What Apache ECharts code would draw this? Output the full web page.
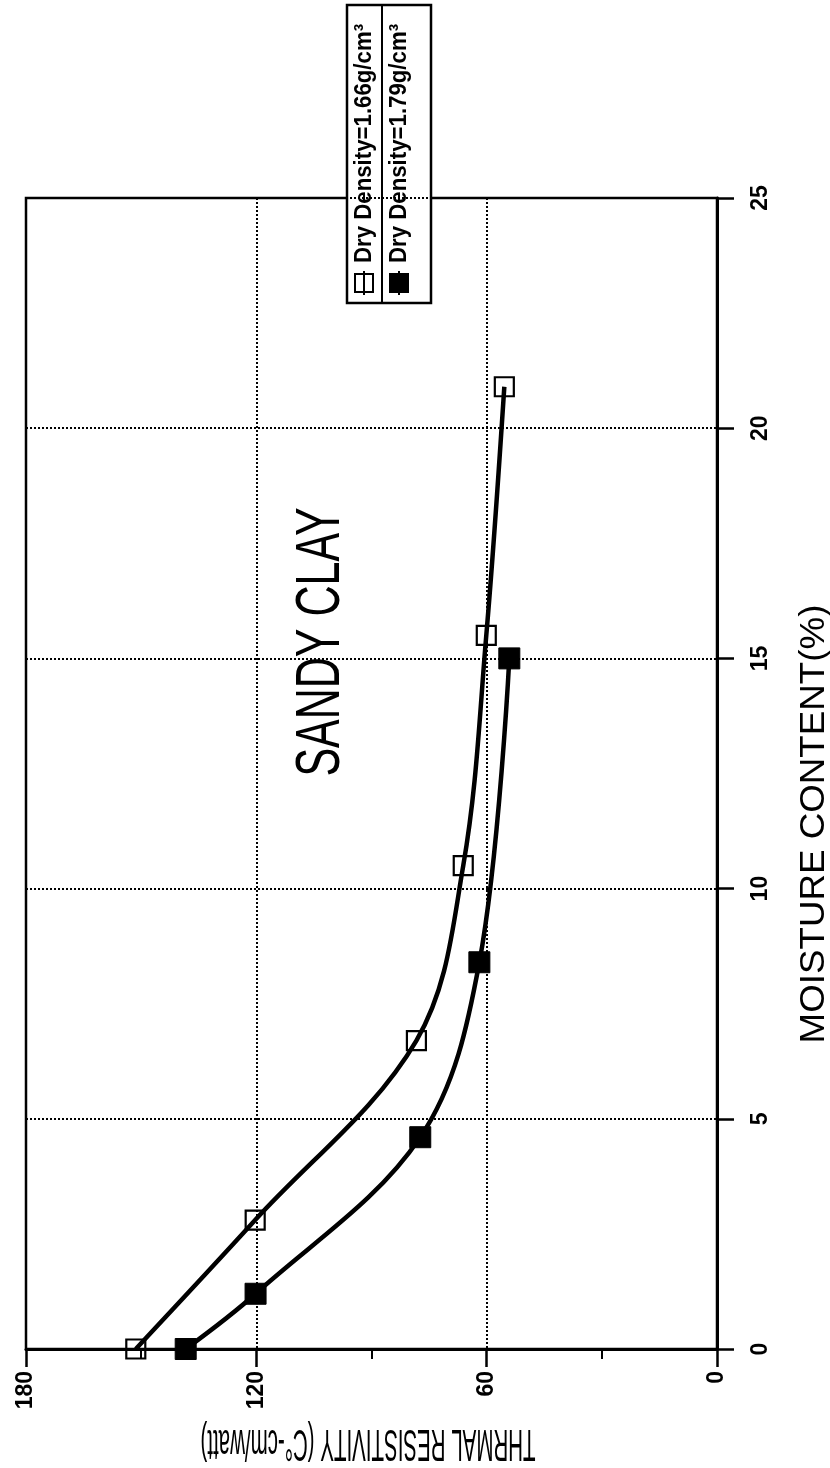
<!DOCTYPE html>
<html>
<head>
<meta charset="utf-8">
<script src="https://cdn.jsdelivr.net/npm/echarts@6/dist/echarts.min.js"></script>
<style>
html,body{margin:0;padding:0;background:#fff;}
#chart{width:830px;height:1468px;}
</style>
</head>
<body>
<div id="chart"></div>
<script>
// Data (moisture content %, thermal resistivity C°-cm/watt)
const moisture166 = [0, 2.8, 6.7, 10.5, 15.5, 20.9];
const resist166   = [151.4, 120.3, 78.3, 66.1, 60.1, 55.4];
const moisture179 = [0, 1.2, 4.6, 8.4, 15.0];
const resist179   = [138.4, 120.2, 77.3, 61.9, 54.1];
const seriesNames = ['Dry Density=1.66g/cm³', 'Dry Density=1.79g/cm³'];
const titleText = 'SANDY CLAY';
const xTitle = 'MOISTURE CONTENT(%)';
const yTitle = 'THRMAL RESISTIVITY (C°-cm/watt)';

const chart = echarts.init(document.getElementById('chart'), null, {renderer:'canvas'});
const FONT = '"Liberation Sans", Arial, sans-serif';

function pairs(r, m){ return r.map((v,i)=>[v, m[i]]); }

const legendX0 = 347, legendY0 = 303, legendLen = 298, legendW = 84, legendDiv = 35;
const legendRowV = [17, 52];
function legendRow(idx){
  const v = legendRowV[idx];
  const kids = [];
  kids.push({type:'line', shape:{x1:8,y1:v,x2:32,y2:v}, style:{stroke:'#000',lineWidth:2}});
  kids.push({type:'rect', shape:{x:11,y:v-9,width:18,height:18},
             style:{fill: idx===0 ? 'none' : '#000', stroke:'#000', lineWidth:2}});
  kids.push({type:'text', x:40, y:v, scaleX:1.17, scaleY:1.3,
             style:{text:seriesNames[idx], font:'bold 19px '+FONT, fill:'#000',
                    align:'left', verticalAlign:'middle', textAlign:'left', textVerticalAlign:'middle'}});
  return kids;
}

const option = {
  animation:false,
  backgroundColor:'#fff',
  grid:{left:26, right:113, top:198, bottom:119, show:true, borderColor:'#000', borderWidth:2.5, containLabel:false},
  xAxis:{
    type:'value', min:0, max:180, interval:60, inverse:true, position:'bottom',
    axisLine:{show:true, onZero:false, lineStyle:{color:'#000', width:3}},
    axisTick:{show:true, length:18, lineStyle:{color:'#000', width:2.5}},
    minorTick:{show:true, splitNumber:2, length:10, lineStyle:{color:'#000', width:2}},
    splitLine:{show:true, lineStyle:{color:'#000', width:2, type:[2,2]}},
    axisLabel:{rotate:90, margin:22, color:'#000', fontSize:23, fontWeight:'bold', fontFamily:FONT, showMinLabel:true, showMaxLabel:true}
  },
  yAxis:{
    type:'value', min:0, max:25, interval:5, position:'right',
    axisLine:{show:true, onZero:false, lineStyle:{color:'#000', width:3}},
    axisTick:{show:true, length:17, lineStyle:{color:'#000', width:2.5}},
    splitLine:{show:true, lineStyle:{color:'#000', width:2, type:[2,2]}},
    axisLabel:{rotate:90, margin:32, color:'#000', fontSize:23, fontWeight:'bold', fontFamily:FONT, showMinLabel:true, showMaxLabel:true}
  },
  series:[
    {name:seriesNames[0], type:'line', data:pairs(resist166, moisture166), smooth:0.35,
     symbol:'rect', symbolSize:19, showAllSymbol:true,
     lineStyle:{color:'#000', width:4.5},
     itemStyle:{color:'rgba(255,255,255,0)', borderColor:'#000', borderWidth:2.2}, z:3},
    {name:seriesNames[1], type:'line', data:pairs(resist179, moisture179), smooth:0.35,
     symbol:'rect', symbolSize:21, showAllSymbol:true,
     lineStyle:{color:'#000', width:4.5},
     itemStyle:{color:'#000', borderColor:'#000', borderWidth:1}, z:3}
  ],
  graphic:[
    {type:'text', x:322, y:642, rotation:Math.PI/2, scaleY:1.45, z:10,
     style:{text:titleText, font:'43px '+FONT, fill:'#000', align:'center', verticalAlign:'middle', textAlign:'center', textVerticalAlign:'middle'}},
    {type:'text', x:814, y:824, rotation:Math.PI/2, scaleX:1.05, z:10,
     style:{text:xTitle, font:'35px '+FONT, fill:'#000', align:'center', verticalAlign:'middle', textAlign:'center', textVerticalAlign:'middle'}},
    {type:'text', x:368, y:1442, rotation:Math.PI, scaleY:2.2, z:10,
     style:{text:yTitle, font:'20.5px '+FONT, fill:'#000', align:'center', verticalAlign:'middle', textAlign:'center', textVerticalAlign:'middle'}},
    {type:'group', x:legendX0, y:legendY0, rotation:Math.PI/2, z:20, children:[
      {type:'rect', shape:{x:0,y:0,width:legendLen,height:legendW}, style:{fill:'#fff', stroke:'#000', lineWidth:2.5}},
      {type:'line', shape:{x1:0,y1:legendDiv,x2:legendLen,y2:legendDiv}, style:{stroke:'#000', lineWidth:2}}
    ].concat(legendRow(0)).concat(legendRow(1))}
  ]
};
chart.setOption(option);
</script>
</body>
</html>
